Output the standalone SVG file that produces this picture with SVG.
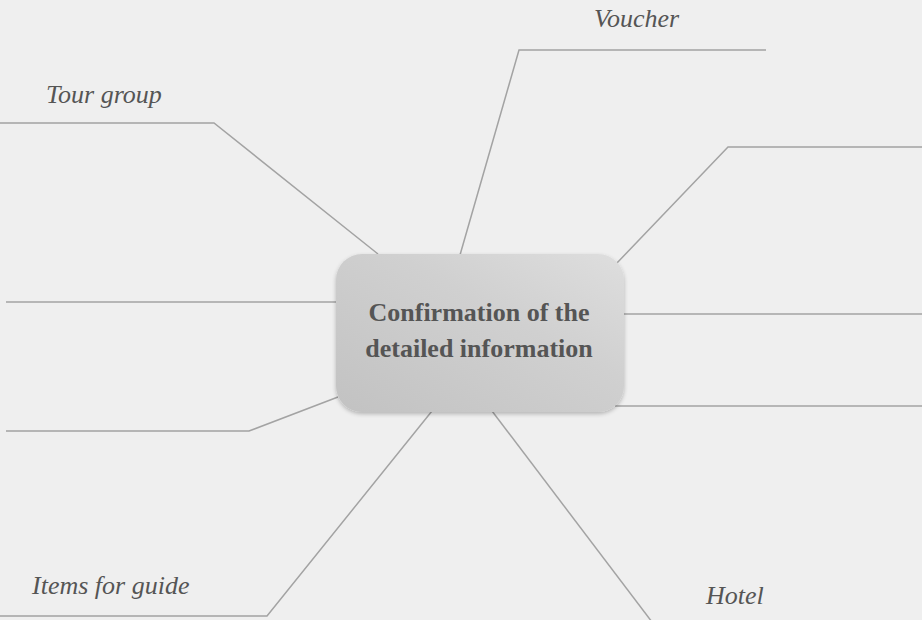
<svg xmlns="http://www.w3.org/2000/svg" width="922" height="620" viewBox="0 0 922 620">
  <defs>
    <linearGradient id="boxFill" x1="0" y1="1" x2="1" y2="0">
      <stop offset="0" stop-color="#c2c2c2"/>
      <stop offset="0.6" stop-color="#d0d0d0"/>
      <stop offset="1" stop-color="#dedede"/>
    </linearGradient>
    <filter id="shadow" x="-10%" y="-10%" width="120%" height="125%">
      <feGaussianBlur in="SourceAlpha" stdDeviation="2"/>
      <feOffset dx="0" dy="2" result="b"/>
      <feComponentTransfer><feFuncA type="linear" slope="0.25"/></feComponentTransfer>
      <feMerge><feMergeNode/><feMergeNode in="SourceGraphic"/></feMerge>
    </filter>
  </defs>
  <style>
    .branch { fill: none; stroke: #a3a3a3; stroke-width: 1.5; stroke-linejoin: miter; }
    .label { font-family: "Liberation Serif", "Times New Roman", serif; font-style: italic; font-size: 26px; fill: #555555; }
    .center { font-family: "Liberation Serif", "Times New Roman", serif; font-weight: bold; font-size: 26px; fill: #555555; text-anchor: middle; }
  </style>
  <rect x="0" y="0" width="922" height="620" fill="#efefef"/>

  <g id="connectors">
    <polyline class="branch" points="0,123 214,123 378,254"/>
    <polyline class="branch" points="766,50 519,50 460,255"/>
    <polyline class="branch" points="922,147 728,147 616,264"/>
    <polyline class="branch" points="624,314 922,314"/>
    <polyline class="branch" points="615,406 922,406"/>
    <polyline class="branch" points="6,302 336,302"/>
    <polyline class="branch" points="6,431 249,431 338,397"/>
    <polyline class="branch" points="0,616 267,616 432,411"/>
    <polyline class="branch" points="492,411 652,622"/>
  </g>

  <g id="node-center">
    <rect x="336" y="254" width="288" height="158" rx="26" ry="26" fill="url(#boxFill)" filter="url(#shadow)"/>
    <text class="center" x="479" y="321">Confirmation of the</text>
    <text class="center" x="479" y="357">detailed information</text>
  </g>

  <g id="node-voucher">
    <text class="label" x="594" y="27">Voucher</text>
  </g>
  <g id="node-tour-group">
    <text class="label" x="46" y="103">Tour group</text>
  </g>
  <g id="node-items-for-guide">
    <text class="label" x="32" y="594">Items for guide</text>
  </g>
  <g id="node-hotel">
    <text class="label" x="706" y="604">Hotel</text>
  </g>
</svg>
